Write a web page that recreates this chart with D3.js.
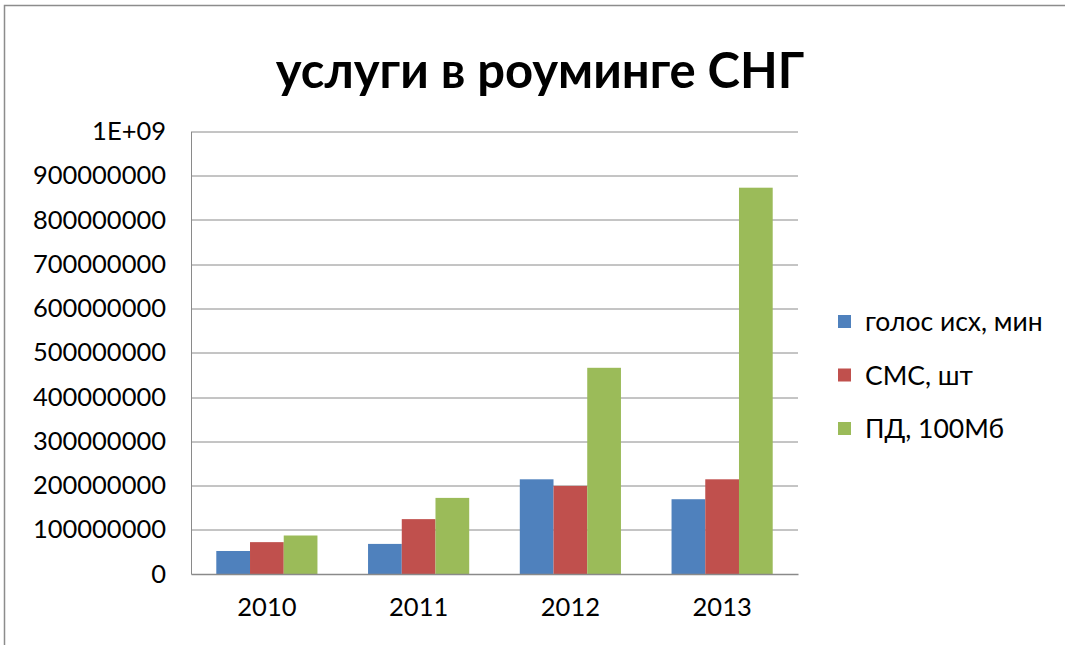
<!DOCTYPE html>
<html>
<head>
<meta charset="utf-8">
<script src="https://cdn.jsdelivr.net/npm/d3@7"></script>
<style>
  body { margin: 0; background: #fff; }
  text { font-family: Lato, "Open Sans", sans-serif; fill: #000; }
</style>
</head>
<body>
<div id="chart-area"></div>
<script>
const years = ["2010", "2011", "2012", "2013"];
const seriesNames = ["голос исх, мин", "СМС, шт", "ПД, 100Мб"];
const voice = [52000000, 68000000, 214000000, 169000000];
const sms = [72000000, 124000000, 199000000, 214000000];
const data100 = [87000000, 172000000, 466000000, 873000000];
const yTicks = [0, 100000000, 200000000, 300000000, 400000000, 500000000,
                600000000, 700000000, 800000000, 900000000, 1000000000];
const colors = ["#4F81BD", "#C0504D", "#9BBB59"];

const svgWidth = 1065;
const svgHeight = 645;
const margin = { top: 131.5, right: 267, bottom: 71, left: 191 };
const width = svgWidth - margin.left - margin.right;
const height = svgHeight - margin.top - margin.bottom;

const values = [voice, sms, data100];
const rows = years.map((y, i) => ({
  year: y,
  vals: values.map((s, k) => ({ key: k, v: s[i] }))
}));

const svg = d3.select("#chart-area")
              .append("svg")
              .attr("width", svgWidth)
              .attr("height", svgHeight);

// outer frame
svg.append("rect")
   .attr("x", 4.5).attr("y", 5.5)
   .attr("width", svgWidth + 10).attr("height", svgHeight + 10)
   .attr("fill", "none")
   .attr("stroke", "#8c8c8c")
   .attr("stroke-width", 1.5);

svg.append("text")
   .attr("x", 540)
   .attr("y", 88)
   .attr("text-anchor", "middle")
   .attr("font-size", 49)
   .attr("font-weight", "bold")
   .text("услуги в роуминге СНГ");

const g = svg.append("g")
             .attr("transform", `translate(${margin.left}, ${margin.top})`);

const x = d3.scaleBand()
            .domain(years)
            .range([0, width])
            .paddingInner(0)
            .paddingOuter(0);

const x1 = d3.scaleBand()
             .domain([0, 1, 2])
             .range([0, x.bandwidth()])
             .paddingInner(0)
             .paddingOuter(0.75);

const y = d3.scaleLinear()
            .domain([0, 1000000000])
            .range([height, 0]);

// gridlines
g.append("g")
 .selectAll("line")
 .data(yTicks.slice(1))
 .enter()
 .append("line")
   .attr("x1", 0)
   .attr("x2", width)
   .attr("y1", d => Math.round(y(d)) + 0.5)
   .attr("y2", d => Math.round(y(d)) + 0.5)
   .attr("stroke", "#8a8a8a")
   .attr("stroke-width", 1);

const yAxisCall = d3.axisLeft(y)
                    .tickValues(yTicks)
                    .tickSize(0)
                    .tickPadding(25)
                    .tickFormat(d => d === 1000000000 ? "1E+09" : d3.format("d")(d));

g.append("g")
 .attr("class", "y-axis")
 .call(yAxisCall)
 .call(a => a.select(".domain").attr("stroke", "#8a8a8a"))
 .call(a => a.selectAll("text").attr("font-size", 25.5).attr("font-family", "Lato, sans-serif"));

// bars
g.selectAll(".grp")
 .data(rows)
 .enter()
 .append("g")
   .attr("transform", d => `translate(${x(d.year)}, 0)`)
 .selectAll("rect")
 .data(d => d.vals)
 .enter()
 .append("rect")
   .attr("x", d => x1(d.key))
   .attr("y", d => y(d.v))
   .attr("width", x1.bandwidth())
   .attr("height", d => height - y(d.v))
   .attr("fill", d => colors[d.key]);

const xAxisCall = d3.axisBottom(x).tickSize(0).tickPadding(24);

g.append("g")
 .attr("class", "x-axis")
 .attr("transform", `translate(0, ${height})`)
 .call(xAxisCall)
 .call(a => a.select(".domain").attr("stroke", "#8a8a8a").attr("stroke-width", 1.5))
 .call(a => a.selectAll("text").attr("font-size", 25.5).attr("font-family", "Lato, sans-serif"));

// legend
const legend = svg.append("g")
                  .attr("transform", "translate(838, 315)");

const items = legend.selectAll("g")
                    .data(seriesNames)
                    .enter()
                    .append("g")
                    .attr("transform", (d, i) => `translate(0, ${i * 53.5})`);

items.append("rect")
     .attr("width", 13)
     .attr("height", 13)
     .attr("fill", (d, i) => colors[i]);

items.append("text")
     .attr("x", 27)
     .attr("y", 7)
     .attr("dy", "0.35em")
     .attr("font-size", 26.5)
     .text(d => d);
</script>
</body>
</html>
